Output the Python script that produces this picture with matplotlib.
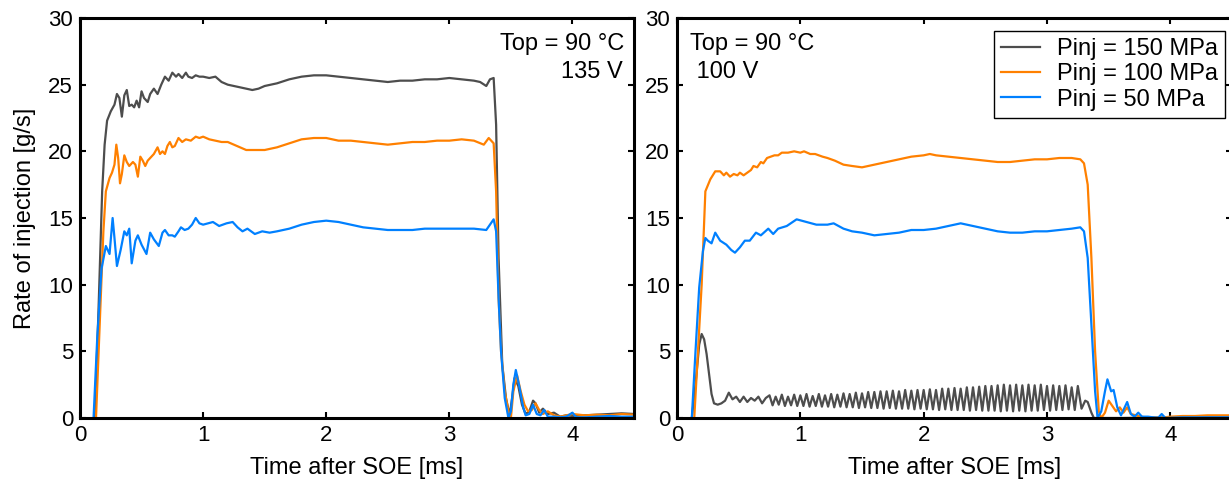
import numpy as np
import matplotlib.pyplot as plt

plt.rcParams['font.family'] = ['Liberation Sans', 'DejaVu Sans']

# ---- data: (time after SOE [ms], rate of injection [g/s]) ----
# left panel, 135 V
L150 = [(0.12, 0), (0.15, 8), (0.18, 17), (0.2, 20.5), (0.22, 22.3), (0.25, 23.0), (0.28, 23.5),
        (0.3, 24.3), (0.32, 24.0), (0.34, 22.6), (0.36, 24.2), (0.38, 24.6), (0.4, 23.4),
        (0.42, 23.5), (0.44, 23.3), (0.46, 23.8), (0.48, 23.3), (0.5, 24.5), (0.52, 24.0),
        (0.55, 23.7), (0.57, 24.3), (0.6, 24.7), (0.63, 24.3), (0.66, 25.0), (0.69, 25.6),
        (0.72, 25.3), (0.75, 25.9), (0.78, 25.6), (0.8, 25.8), (0.83, 25.5), (0.86, 25.9),
        (0.88, 25.6), (0.91, 25.5), (0.94, 25.7), (0.97, 25.6), (1.0, 25.6), (1.05, 25.5),
        (1.1, 25.6), (1.15, 25.2), (1.2, 25.0), (1.3, 24.8), (1.4, 24.6), (1.45, 24.7),
        (1.5, 24.9), (1.6, 25.1), (1.7, 25.4), (1.8, 25.6), (1.9, 25.7), (2.0, 25.7),
        (2.1, 25.6), (2.2, 25.5), (2.3, 25.4), (2.4, 25.3), (2.5, 25.2), (2.6, 25.3),
        (2.7, 25.3), (2.8, 25.4), (2.9, 25.4), (3.0, 25.5), (3.1, 25.4), (3.2, 25.3),
        (3.25, 25.2), (3.3, 24.9), (3.33, 25.4), (3.36, 25.5), (3.38, 22), (3.40, 12),
        (3.43, 4), (3.46, 1.5), (3.49, 0.2), (3.51, 1.5), (3.53, 3.0), (3.56, 2.4),
        (3.59, 1.0), (3.62, 0.3), (3.65, 0.5), (3.68, 1.3), (3.70, 1.1), (3.73, 0.4),
        (3.76, 0.7), (3.8, 0.3), (3.85, 0.4), (3.9, 0.1), (3.95, 0.2), (4.0, 0.15),
        (4.1, 0.2), (4.2, 0.25), (4.3, 0.3), (4.4, 0.35), (4.5, 0.3)]

L100 = [(0.13, 0), (0.16, 7), (0.19, 14), (0.21, 17.0), (0.24, 18.0), (0.26, 18.4), (0.28, 19.0),
        (0.295, 20.5), (0.31, 19.5), (0.325, 17.6), (0.34, 18.3), (0.36, 19.7), (0.38, 19.2),
        (0.40, 18.9), (0.43, 19.2), (0.45, 19.0), (0.47, 18.1), (0.49, 19.6), (0.51, 19.3),
        (0.53, 18.9), (0.55, 19.3), (0.57, 19.5), (0.6, 19.8), (0.63, 20.3), (0.65, 19.8),
        (0.67, 20.0), (0.69, 19.8), (0.71, 20.4), (0.73, 20.7), (0.75, 20.3), (0.77, 20.4),
        (0.8, 21.0), (0.83, 20.7), (0.86, 20.9), (0.9, 20.8), (0.94, 21.1), (0.97, 21.0),
        (1.0, 21.1), (1.05, 20.9), (1.1, 20.8), (1.15, 20.7), (1.2, 20.7), (1.25, 20.5),
        (1.3, 20.3), (1.35, 20.1), (1.4, 20.1), (1.5, 20.1), (1.6, 20.3), (1.7, 20.6),
        (1.8, 20.9), (1.9, 21.0), (2.0, 21.0), (2.1, 20.8), (2.2, 20.8), (2.3, 20.7),
        (2.4, 20.6), (2.5, 20.5), (2.6, 20.6), (2.7, 20.7), (2.8, 20.7), (2.9, 20.8),
        (3.0, 20.8), (3.1, 20.9), (3.2, 20.8), (3.28, 20.5), (3.32, 21.0), (3.36, 20.6),
        (3.38, 17), (3.40, 9), (3.42, 5), (3.45, 2), (3.48, 0.5), (3.5, 0), (3.52, 2.0),
        (3.55, 3.2), (3.58, 2.0), (3.61, 1.0), (3.64, 0.5), (3.67, 0.6), (3.7, 1.1),
        (3.73, 0.6), (3.76, 0.3), (3.8, 0.5), (3.85, 0.2), (3.9, 0.1), (4.0, 0.3),
        (4.1, 0.2), (4.2, 0.25), (4.3, 0.2), (4.4, 0.3), (4.5, 0.25)]

L50 = [(0.11, 0), (0.14, 6), (0.175, 11.2), (0.21, 12.9), (0.24, 12.3), (0.265, 15.0), (0.28, 13.5),
       (0.3, 11.4), (0.33, 12.6), (0.36, 14.0), (0.38, 13.7), (0.4, 14.2), (0.42, 11.6),
       (0.45, 13.3), (0.47, 13.7), (0.5, 13.0), (0.54, 12.3), (0.57, 13.9), (0.6, 13.4),
       (0.64, 12.9), (0.67, 13.9), (0.69, 14.1), (0.72, 13.7), (0.75, 13.7), (0.77, 13.6),
       (0.8, 14.0), (0.82, 14.3), (0.85, 14.1), (0.88, 14.2), (0.91, 14.5), (0.94, 15.0),
       (0.97, 14.6), (1.0, 14.5), (1.04, 14.6), (1.08, 14.7), (1.13, 14.4), (1.19, 14.6),
       (1.24, 14.7), (1.28, 14.3), (1.32, 14.0), (1.36, 14.2), (1.42, 13.8), (1.48, 14.0),
       (1.54, 13.9), (1.6, 14.0), (1.7, 14.2), (1.8, 14.5), (1.9, 14.7), (2.0, 14.8),
       (2.1, 14.7), (2.2, 14.5), (2.3, 14.3), (2.4, 14.2), (2.5, 14.1), (2.6, 14.1),
       (2.7, 14.1), (2.8, 14.2), (2.9, 14.2), (3.0, 14.2), (3.1, 14.2), (3.2, 14.2),
       (3.3, 14.1), (3.33, 14.5), (3.36, 14.9), (3.38, 14), (3.40, 9), (3.42, 5),
       (3.45, 1.5), (3.48, 0), (3.5, 0.5), (3.52, 2.5), (3.54, 3.6), (3.57, 2.3),
       (3.6, 0.8), (3.62, 0.2), (3.65, 0.3), (3.68, 1.0), (3.71, 0.3), (3.74, 0.2),
       (3.77, 0.6), (3.8, 0.1), (3.85, 0.1), (3.9, 0.05), (3.95, 0.1), (4.0, 0.4),
       (4.03, 0.05), (4.1, 0.05), (4.2, 0.1), (4.3, 0.15), (4.4, 0.1), (4.5, 0.1)]

# right panel, 100 V
R150_start = [(0.12, 0), (0.15, 2.5), (0.18, 5.5), (0.2, 6.3), (0.22, 5.9), (0.24, 4.8),
              (0.26, 3.3), (0.28, 1.8), (0.3, 1.1), (0.33, 1.0), (0.36, 1.1), (0.39, 1.3),
              (0.42, 1.9), (0.45, 1.4), (0.48, 1.6), (0.51, 1.2), (0.54, 1.6), (0.57, 1.2),
              (0.6, 1.5), (0.63, 1.3), (0.66, 1.6), (0.69, 1.1), (0.72, 1.5)]
# needle oscillation 0.75 .. 3.25 ms, peaks and troughs read every half period
R150_osc_start = 0.75
R150_osc_halfperiod = 0.025
R150_peaks = [1.7, 1.6, 1.75, 1.6, 1.75, 1.7, 1.8, 1.65, 1.8, 1.7,
              1.8, 1.75, 1.85, 1.8, 1.9, 1.85, 1.95, 1.95, 2.0, 2.0,
              2.05, 2.0, 2.1, 2.05, 2.1, 2.1, 2.15, 2.1, 2.2, 2.2,
              2.25, 2.2, 2.3, 2.3, 2.35, 2.4, 2.4, 2.45, 2.5, 2.45,
              2.5, 2.45, 2.5, 2.45, 2.5, 2.4, 2.45, 2.4, 2.45, 2.3, 2.4]
R150_troughs = [0.95, 1.0, 0.9, 0.95, 0.9, 0.9, 0.85, 0.9, 0.85, 0.85,
                0.8, 0.85, 0.8, 0.8, 0.75, 0.8, 0.75, 0.75, 0.7, 0.75,
                0.7, 0.7, 0.7, 0.65, 0.7, 0.65, 0.65, 0.6, 0.65, 0.6,
                0.6, 0.6, 0.55, 0.6, 0.55, 0.55, 0.55, 0.5, 0.55, 0.5,
                0.55, 0.5, 0.55, 0.55, 0.6, 0.55, 0.6, 0.6, 0.65, 0.6]
R150_end = [(3.28, 0.7), (3.31, 1.3), (3.33, 1.2), (3.36, 0.4), (3.38, 0), (3.6, 0),
            (4.0, 0.05), (4.5, 0.05)]

R100 = [(0.14, 0), (0.17, 5), (0.2, 10), (0.23, 17.0), (0.27, 17.9), (0.31, 18.5), (0.35, 18.5),
        (0.38, 18.2), (0.4, 18.4), (0.43, 18.1), (0.46, 18.3), (0.49, 18.2), (0.51, 18.4),
        (0.54, 18.2), (0.57, 18.4), (0.6, 18.6), (0.62, 18.9), (0.65, 18.8), (0.68, 19.2),
        (0.7, 19.1), (0.73, 19.5), (0.76, 19.6), (0.79, 19.7), (0.82, 19.7), (0.85, 19.9),
        (0.9, 19.9), (0.95, 20.0), (1.0, 19.9), (1.03, 20.0), (1.08, 19.8), (1.12, 19.8),
        (1.18, 19.6), (1.22, 19.5), (1.28, 19.3), (1.35, 19.0), (1.42, 18.9), (1.5, 18.8),
        (1.6, 19.0), (1.7, 19.2), (1.8, 19.4), (1.9, 19.6), (2.0, 19.7), (2.05, 19.8),
        (2.1, 19.7), (2.2, 19.6), (2.3, 19.5), (2.4, 19.4), (2.5, 19.3), (2.6, 19.2),
        (2.7, 19.2), (2.8, 19.3), (2.9, 19.4), (3.0, 19.4), (3.1, 19.5), (3.2, 19.5),
        (3.27, 19.4), (3.3, 19.1), (3.33, 17.5), (3.36, 12), (3.39, 5), (3.42, 0.5),
        (3.44, 0), (3.47, 0.4), (3.5, 1.3), (3.53, 0.9), (3.56, 0.5), (3.59, 0.8),
        (3.62, 0.4), (3.65, 0.8), (3.68, 0.3), (3.72, 0.2), (3.76, 0.1), (3.8, 0.05),
        (3.9, 0.0), (4.0, 0.1), (4.1, 0.15), (4.2, 0.15), (4.3, 0.2), (4.4, 0.2), (4.5, 0.2)]

R50 = [(0.12, 0), (0.15, 5), (0.18, 9.8), (0.21, 12.5), (0.23, 13.5), (0.25, 13.3), (0.28, 13.1),
       (0.31, 13.9), (0.35, 13.3), (0.4, 13.0), (0.44, 12.6), (0.47, 12.4), (0.51, 12.8),
       (0.55, 13.3), (0.59, 13.3), (0.64, 13.9), (0.68, 13.7), (0.74, 14.2), (0.78, 13.8),
       (0.82, 14.2), (0.89, 14.4), (0.97, 14.9), (1.05, 14.7), (1.13, 14.5), (1.22, 14.5),
       (1.27, 14.6), (1.35, 14.2), (1.42, 14.0), (1.5, 13.9), (1.6, 13.7), (1.7, 13.8),
       (1.8, 13.9), (1.9, 14.1), (2.0, 14.1), (2.1, 14.2), (2.2, 14.4), (2.3, 14.6),
       (2.4, 14.4), (2.5, 14.2), (2.6, 14.0), (2.7, 13.9), (2.8, 13.9), (2.9, 14.0),
       (3.0, 14.0), (3.1, 14.1), (3.2, 14.2), (3.27, 14.3), (3.3, 14.0), (3.33, 12),
       (3.36, 7), (3.39, 2), (3.41, 0), (3.44, 0.5), (3.47, 2.0), (3.49, 2.9), (3.52, 2.0),
       (3.54, 2.1), (3.57, 0.8), (3.6, 0.2), (3.63, 0.8), (3.65, 1.2), (3.68, 0.3),
       (3.71, 0.1), (3.74, 0.4), (3.77, 0.1), (3.82, 0.1), (3.9, 0.0), (3.93, 0.3),
       (3.96, 0.0), (4.1, 0.05), (4.5, 0.05)]

labels = ['Pinj = 150 MPa', 'Pinj = 100 MPa', 'Pinj = 50 MPa']
colors = ['#4d4d4d', '#ff8000', '#0080ff']

# assemble the oscillating 150 MPa trace of the right panel
osc_v = []
for p, q in zip(R150_peaks, R150_troughs):
    osc_v += [p, q]
osc_v.append(R150_peaks[-1])
osc_t = R150_osc_start + R150_osc_halfperiod * np.arange(len(osc_v))
r150_t = [t for t, _ in R150_start] + list(osc_t) + [t for t, _ in R150_end]
r150_v = [v for _, v in R150_start] + osc_v + [v for _, v in R150_end]

W, H = 1229, 479
fig = plt.figure(figsize=(W / 100, H / 100), dpi=100)
ax1 = fig.add_axes([80 / W, 61 / H, 554 / W, 400 / H])
ax2 = fig.add_axes([677 / W, 61 / H, 555 / W, 400 / H])

lw = 1.6
for data, c, lab in zip([L150, L100, L50], colors, labels):
    t, v = zip(*data)
    ax1.plot(t, v, color=c, lw=lw, label=lab)

ax2.plot(r150_t, r150_v, color=colors[0], lw=lw, label=labels[0])
for data, c, lab in zip([R100, R50], colors[1:], labels[1:]):
    t, v = zip(*data)
    ax2.plot(t, v, color=c, lw=lw, label=lab)

for ax in (ax1, ax2):
    ax.set_xlim(0, 4.5)
    ax.set_ylim(0, 30)
    ax.set_xticks([0, 1, 2, 3, 4])
    ax.set_yticks([0, 5, 10, 15, 20, 25, 30])
    ax.tick_params(direction='in', top=True, right=True, length=4, width=1.5,
                   labelsize=16, pad=5)
    for s in ax.spines.values():
        s.set_linewidth(2.2)
    ax.set_xlabel('Time after SOE [ms]', fontsize=17, labelpad=8)

ax1.set_ylabel('Rate of injection [g/s]', fontsize=17, labelpad=9)

ax1.text(0.982, 0.935, 'Top = 90 °C', transform=ax1.transAxes, ha='right', va='center',
         fontsize=17)
ax1.text(0.980, 0.865, '135 V', transform=ax1.transAxes, ha='right', va='center',
         fontsize=17)
ax2.text(0.023, 0.935, 'Top = 90 °C', transform=ax2.transAxes, ha='left', va='center',
         fontsize=17)
ax2.text(0.023, 0.865, ' 100 V', transform=ax2.transAxes, ha='left', va='center',
         fontsize=17)

leg = ax2.legend(loc='upper right', bbox_to_anchor=(0.987, 0.9675), borderaxespad=0,
                 fontsize=17, handlelength=1.65, handletextpad=0.7, labelspacing=0.14,
                 borderpad=0.3, fancybox=False, framealpha=1, edgecolor='black')
leg.get_frame().set_linewidth(1.0)

fig.savefig('out.png', dpi=100)
